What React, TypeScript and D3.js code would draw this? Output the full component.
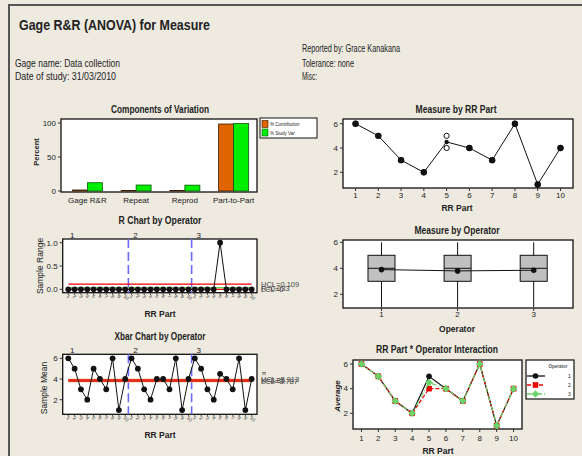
import React from 'react';
import * as d3 from 'd3';

const FONT = "'Liberation Sans Narrow','Arial Narrow','Liberation Sans',Arial,sans-serif";
const BG = '#EEEAE0';

// ---------- data ----------
const components = ['Gage R&R', 'Repeat', 'Reprod', 'Part-to-Part'];
const pctContribution = [1.5, 0.8, 0.7, 98.5];
const pctStudyVar = [12.2, 8.8, 8.6, 99.3];

const parts = [1, 2, 3, 4, 5, 6, 7, 8, 9, 10];
const operators = ['1', '2', '3'];
const op1Trial1 = [6, 5, 3, 2, 5, 4, 3, 6, 1, 4];
const op1Trial2 = [6, 5, 3, 2, 5, 4, 3, 6, 1, 4];
const op2Trial1 = [6, 5, 3, 2, 4, 4, 3, 6, 1, 4];
const op2Trial2 = [6, 5, 3, 2, 4, 4, 3, 6, 1, 4];
const op3Trial1 = [6, 5, 3, 2, 4, 4, 3, 6, 1, 4];
const op3Trial2 = [6, 5, 3, 2, 5, 4, 3, 6, 1, 4];

const rUCL = 0.109;
const rBar = 0.033;
const rLCL = 0;
const xUCL = 3.913;
const xBarBar = 3.85;
const xLCL = 3.787;

// ---------- derived ----------
const trials = [
  [op1Trial1, op1Trial2],
  [op2Trial1, op2Trial2],
  [op3Trial1, op3Trial2],
];
const opMeans = trials.map(([a, b]) => a.map((v, i) => (v + b[i]) / 2));
const opRanges = trials.map(([a, b]) => a.map((v, i) => Math.abs(v - b[i])));
const allMeans = opMeans.flat();
const allRanges = opRanges.flat();
const partValues = parts.map((_, i) => trials.flatMap(([a, b]) => [a[i], b[i]]));
const partMeans = partValues.map((vs) => d3.mean(vs) as number);
const opValues = trials.map(([a, b]) => [...a, ...b].sort((x, y) => x - y));

const T = { fontFamily: FONT, fill: '#222' } as const;

function YTicks({ scale, ticks, x, fmt, size = 8 }: any) {
  return (
    <g>
      {ticks.map((t: number) => (
        <g key={t}>
          <line x1={x - 3} x2={x} y1={scale(t)} y2={scale(t)} stroke="#333" strokeWidth={1} />
          <text x={x - 5} y={scale(t)} dy="0.35em" textAnchor="end" fontSize={size} {...T}>
            {fmt ? fmt(t) : t}
          </text>
        </g>
      ))}
    </g>
  );
}

function XTicks({ scale, ticks, y, labelY, labels, size = 8 }: any) {
  return (
    <g>
      {ticks.map((t: any, i: number) => (
        <g key={i}>
          <line x1={scale(t)} x2={scale(t)} y1={y} y2={y + 3} stroke="#333" strokeWidth={1} />
          <text x={scale(t)} y={labelY} textAnchor="middle" fontSize={size} {...T}>
            {labels ? labels[i] : t}
          </text>
        </g>
      ))}
    </g>
  );
}

function Title({ x, y, text, len }: any) {
  return (
    <text x={x} y={y} textAnchor="middle" fontSize={10} fontWeight="bold" textLength={len}
      lengthAdjust="spacingAndGlyphs" {...T}>
      {text}
    </text>
  );
}

function Frame({ x0, y0, x1, y1 }: any) {
  return <rect x={x0} y={y0} width={x1 - x0} height={y1 - y0} fill="#fff" stroke="#111" strokeWidth={1.3} />;
}

function Components() {
  const x = d3.scaleBand<string>().domain(components).range([62, 257]);
  const y = d3.scaleLinear().domain([0, 100]).range([191, 123]);
  return (
    <g>
      <Title x={160} y={113} text="Components of Variation" len={98} />
      <Frame x0={61} y0={119} x1={257} y1={192} />
      {components.map((c, i) => {
        const cx = (x(c) as number) + x.bandwidth() / 2 + 1;
        return (
          <g key={c}>
            <rect x={cx - 15} width={15} y={y(pctContribution[i])} height={y(0) - y(pctContribution[i])}
              fill="#E06400" stroke="#3a1a00" strokeWidth={0.8} />
            <rect x={cx} width={15} y={y(pctStudyVar[i])} height={y(0) - y(pctStudyVar[i])}
              fill="#00EE00" stroke="#0a5a0a" strokeWidth={0.8} />
          </g>
        );
      })}
      <YTicks scale={y} ticks={[0, 50, 100]} x={61} />
      {components.map((c) => (
        <text key={c} x={(x(c) as number) + x.bandwidth() / 2 + 1} y={203} textAnchor="middle" fontSize={8} {...T}>
          {c}
        </text>
      ))}
      <text transform="translate(39,152) rotate(-90)" textAnchor="middle" fontSize={7.5} fontWeight="bold" {...T}>
        Percent
      </text>
      <rect x={260} y={118} width={57} height={20} fill="#fff" stroke="#111" strokeWidth={1} />
      <rect x={262} y={120.5} width={6} height={7} fill="#E06400" stroke="#3a1a00" strokeWidth={0.6} />
      <rect x={262} y={129} width={6} height={7} fill="#00EE00" stroke="#0a5a0a" strokeWidth={0.6} />
      <text x={270} y={126} fontSize={4.5} {...T}>% Contribution</text>
      <text x={270} y={134.5} fontSize={4.5} {...T}>% Study Var</text>
    </g>
  );
}

function MeasureByPart() {
  const x = d3.scaleLinear().domain([0.45, 10.55]).range([343, 573]);
  const y = d3.scaleLinear().domain([2, 6]).range([172.3, 123.7]);
  const line = d3.line<number>().x((_, i) => x(parts[i])).y((d) => y(d));
  return (
    <g>
      <Title x={456} y={113} text="Measure by RR Part" len={81} />
      <Frame x0={343} y0={119} x1={573} y1={188} />
      {partValues.map((vs, i) =>
        Array.from(new Set(vs)).map((v) => (
          <circle key={i + '-' + v} cx={x(parts[i])} cy={y(v)} r={2.6} fill="#fff" stroke="#111" strokeWidth={1} />
        ))
      )}
      <path d={line(partMeans) as string} fill="none" stroke="#111" strokeWidth={1} />
      {partMeans.map((m, i) => (
        <circle key={i} cx={x(parts[i])} cy={y(m)} r={i === 4 ? 2.2 : 3.2} fill="#111" />
      ))}
      <YTicks scale={y} ticks={[2, 4, 6]} x={343} />
      <XTicks scale={x} ticks={parts} y={188} labelY={198} />
      <text x={457} y={211} textAnchor="middle" fontSize={8.5} fontWeight="bold" {...T}>RR Part</text>
    </g>
  );
}

function ControlChart({ kind }: { kind: 'R' | 'X' }) {
  const isR = kind === 'R';
  const x = d3.scaleLinear().domain([0, 29]).range([68.3, 251.7]);
  const y = isR
    ? d3.scaleLinear().domain([0, 1]).range([289.3, 242.7])
    : d3.scaleLinear().domain([2, 6]).range([399.7, 358.3]);
  const top = isR ? 239 : 354.3;
  const bot = isR ? 292.7 : 414.3;
  const vals = isR ? allRanges : allMeans;
  const line = d3.line<number>().x((_, i) => x(i)).y((d) => y(d));
  const idx = d3.range(30);
  const titleY = isR ? 224 : 340;
  return (
    <g>
      <Title x={160} y={titleY} text={isR ? 'R Chart by Operator' : 'Xbar Chart by Operator'} len={isR ? 83 : 91} />
      {operators.map((o, g) => (
        <text key={o} x={x(g * 10) + 4} y={top - 1} textAnchor="middle" fontSize={8} {...T}>{o}</text>
      ))}
      <Frame x0={62.7} y0={top} x1={257} y1={bot} />
      {[9.5, 19.5].map((b) => (
        <line key={b} x1={x(b)} x2={x(b)} y1={top} y2={bot} stroke="#6a6aff" strokeWidth={1.6} strokeDasharray="9,4" />
      ))}
      {isR ? (
        <g>
          <line x1={x(0)} x2={x(29)} y1={y(rUCL)} y2={y(rUCL)} stroke="#ee0000" strokeWidth={1.2} />
          <line x1={x(0)} x2={x(29)} y1={y(rBar)} y2={y(rBar)} stroke="#22cc22" strokeWidth={1.2} />
          <line x1={x(0)} x2={x(29)} y1={y(rLCL)} y2={y(rLCL)} stroke="#ee0000" strokeWidth={1.2} />
        </g>
      ) : (
        <g>
          <line x1={x(0)} x2={x(29)} y1={y(xBarBar)} y2={y(xBarBar)} stroke="#d8cfa8" strokeWidth={4} />
          <line x1={x(0)} x2={x(29)} y1={y(xUCL)} y2={y(xUCL)} stroke="#ee0000" strokeWidth={1.3} />
          <line x1={x(0)} x2={x(29)} y1={y(xLCL)} y2={y(xLCL)} stroke="#ee0000" strokeWidth={1.3} />
          <line x1={x(0)} x2={x(29)} y1={y(xBarBar)} y2={y(xBarBar)} stroke="#ee2200" strokeWidth={0.8} />
        </g>
      )}
      <path d={line(vals) as string} fill="none" stroke="#111" strokeWidth={1} />
      {vals.map((v, i) => (
        <circle key={i} cx={x(i)} cy={y(v)} r={2.9} fill="#111" />
      ))}
      <YTicks scale={y} ticks={isR ? [0, 0.5, 1] : [2, 4, 6]} x={62.7} fmt={isR ? d3.format('.1f') : undefined} />
      {idx.map((i) => (
        <g key={i}>
          <line x1={x(i)} x2={x(i)} y1={bot} y2={bot + 2.5} stroke="#333" strokeWidth={0.8} />
          <text transform={`translate(${x(i) - 2},${bot + 4}) rotate(45)`} fontSize={4.8} {...T} fill="#444">
            {parts[i % 10]}
          </text>
        </g>
      ))}
      <text x={160} y={isR ? 317 : 438} textAnchor="middle" fontSize={8.5} fontWeight="bold" {...T}>RR Part</text>
      <text transform={`translate(${isR ? 43 : 47},${isR ? 266 : 388}) rotate(-90)`} textAnchor="middle" fontSize={8.5} {...T}>
        {isR ? 'Sample Range' : 'Sample Mean'}
      </text>
      {isR ? (
        <g fontSize={7.5} fill="#444" fontFamily={FONT}>
          <text x={261} y={287}>UCL=0.109</text>
          <text x={261} y={290.5}>R̄=0.033</text>
          <text x={261} y={292}>LCL=0</text>
        </g>
      ) : (
        <g fontSize={7.5} fill="#444" fontFamily={FONT}>
          <line x1={262} x2={266} y1={372.5} y2={372.5} stroke="#444" strokeWidth={0.7} />
          <line x1={262} x2={266} y1={374} y2={374} stroke="#444" strokeWidth={0.7} />
          <text x={261} y={382}>UCL=3.913</text>
          <text x={261} y={383}>X=3.85</text>
          <text x={261} y={384}>LCL=3.787</text>
        </g>
      )}
    </g>
  );
}

function MeasureByOperator() {
  const x = d3.scaleLinear().domain([1, 3]).range([381.5, 533.7]);
  const y = d3.scaleLinear().domain([1, 6]).range([307.3, 242.3]);
  const stats = opValues.map((vs) => ({
    q1: d3.quantile(vs, 0.25) as number,
    med: d3.quantile(vs, 0.5) as number,
    q3: d3.quantile(vs, 0.75) as number,
    min: d3.min(vs) as number,
    max: d3.max(vs) as number,
    mean: d3.mean(vs) as number,
  }));
  const line = d3.line<any>().x((_, i) => x(i + 1)).y((d) => y(d.mean));
  return (
    <g>
      <Title x={457} y={234} text="Measure by Operator" len={85} />
      <Frame x0={343} y0={240} x1={573} y1={308} />
      {stats.map((s, i) => {
        const cx = x(i + 1);
        return (
          <g key={i}>
            <line x1={cx} x2={cx} y1={y(s.max)} y2={y(s.min)} stroke="#111" strokeWidth={1} />
            <rect x={cx - 13.5} width={27} y={y(s.q3)} height={y(s.q1) - y(s.q3)} fill="#c0c0c0" stroke="#111" strokeWidth={1} />
            <line x1={cx - 13.5} x2={cx + 13.5} y1={y(s.med)} y2={y(s.med)} stroke="#111" strokeWidth={1} />
          </g>
        );
      })}
      <path d={line(stats) as string} fill="none" stroke="#111" strokeWidth={1} />
      {stats.map((s, i) => (
        <g key={i}>
          <circle cx={x(i + 1)} cy={y(s.mean)} r={2.8} fill="#111" />
        </g>
      ))}
      <YTicks scale={y} ticks={[2, 4, 6]} x={343} />
      <XTicks scale={x} ticks={[1, 2, 3]} y={308} labelY={317} />
      <text x={457} y={332} textAnchor="middle" fontSize={8.5} fontWeight="bold" {...T}>Operator</text>
    </g>
  );
}

function Interaction() {
  const x = d3.scaleLinear().domain([0.5, 10.5]).range([353, 522]);
  const y = d3.scaleLinear().domain([2, 6]).range([413.3, 364]);
  const line = d3.line<number>().x((_, i) => x(parts[i])).y((d) => y(d));
  const colors = ['#111', '#ee0000', '#6ad36a'];
  const dashes = [undefined, '4,2', '5,2,1,2'];
  const marker = (k: number, cx: number, cy: number, key: any) => {
    if (k === 0) return <circle key={key} cx={cx} cy={cy} r={2.8} fill={colors[0]} />;
    if (k === 1) return <rect key={key} x={cx - 2.8} y={cy - 2.8} width={5.6} height={5.6} fill={colors[1]} />;
    return <path key={key} d={`M${cx},${cy - 3.8}L${cx + 3.8},${cy}L${cx},${cy + 3.8}L${cx - 3.8},${cy}Z`} fill={colors[2]} />;
  };
  return (
    <g>
      <Title x={437} y={353} text="RR Part * Operator Interaction" len={122} />
      <Frame x0={353} y0={360} x1={522} y1={429} />
      {opMeans.map((m, k) => (
        <g key={k}>
          <path d={line(m) as string} fill="none" stroke={colors[k]} strokeWidth={1.2} strokeDasharray={dashes[k]} />
          {m.map((v, i) => marker(k, x(parts[i]), y(v), i))}
        </g>
      ))}
      <YTicks scale={y} ticks={[2, 4, 6]} x={353} />
      <XTicks scale={x} ticks={parts} y={429} labelY={441} />
      <text x={438} y={454} textAnchor="middle" fontSize={8.5} fontWeight="bold" {...T}>RR Part</text>
      <text transform="translate(340,396) rotate(-90)" textAnchor="middle" fontSize={8} fontWeight="bold" fontStyle="italic" {...T}>
        Average
      </text>
      <rect x={526} y={360} width={48} height={39} fill="#fff" stroke="#111" strokeWidth={1.2} />
      <text x={558} y={368} textAnchor="middle" fontSize={4.5} fontWeight="bold" {...T} fill="#555">Operator</text>
      {operators.map((o, k) => {
        const ly = 376 + k * 9;
        return (
          <g key={o}>
            <line x1={527} x2={545} y1={ly} y2={ly} stroke={colors[k]} strokeWidth={1.3} strokeDasharray={dashes[k]} />
            {marker(k, 535.5, ly, 'm')}
            <text x={568} y={ly + 2} fontSize={5} {...T}>{o}</text>
          </g>
        );
      })}
    </g>
  );
}

export default function App() {
  return (
    <div style={{ position: 'fixed', left: 0, top: 0 }}>
      <svg width={582} height={456} style={{ display: 'block' }}>
        <rect x={0} y={0} width={582} height={456} fill={BG} />
        <rect x={9} y={5} width={600} height={500} fill="none" stroke="#555" strokeWidth={2} />
        <text x={19} y={30} fontSize={14} fontWeight="bold" textLength={191} lengthAdjust="spacingAndGlyphs" {...T}>
          Gage R&amp;R (ANOVA) for Measure
        </text>
        <g fontSize={10} {...T}>
          <text x={15} y={66.5} textLength={105} lengthAdjust="spacingAndGlyphs">Gage name: Data collection</text>
          <text x={15} y={80.3} textLength={101} lengthAdjust="spacingAndGlyphs">Date of study: 31/03/2010</text>
          <text x={302} y={52.3} textLength={98} lengthAdjust="spacingAndGlyphs">Reported by: Grace Kanakana</text>
          <text x={302} y={66.5} textLength={52} lengthAdjust="spacingAndGlyphs">Tolerance: none</text>
          <text x={302} y={80.3} textLength={15} lengthAdjust="spacingAndGlyphs">Misc:</text>
        </g>
        <Components />
        <MeasureByPart />
        <ControlChart kind="R" />
        <MeasureByOperator />
        <ControlChart kind="X" />
        <Interaction />
      </svg>
    </div>
  );
}
